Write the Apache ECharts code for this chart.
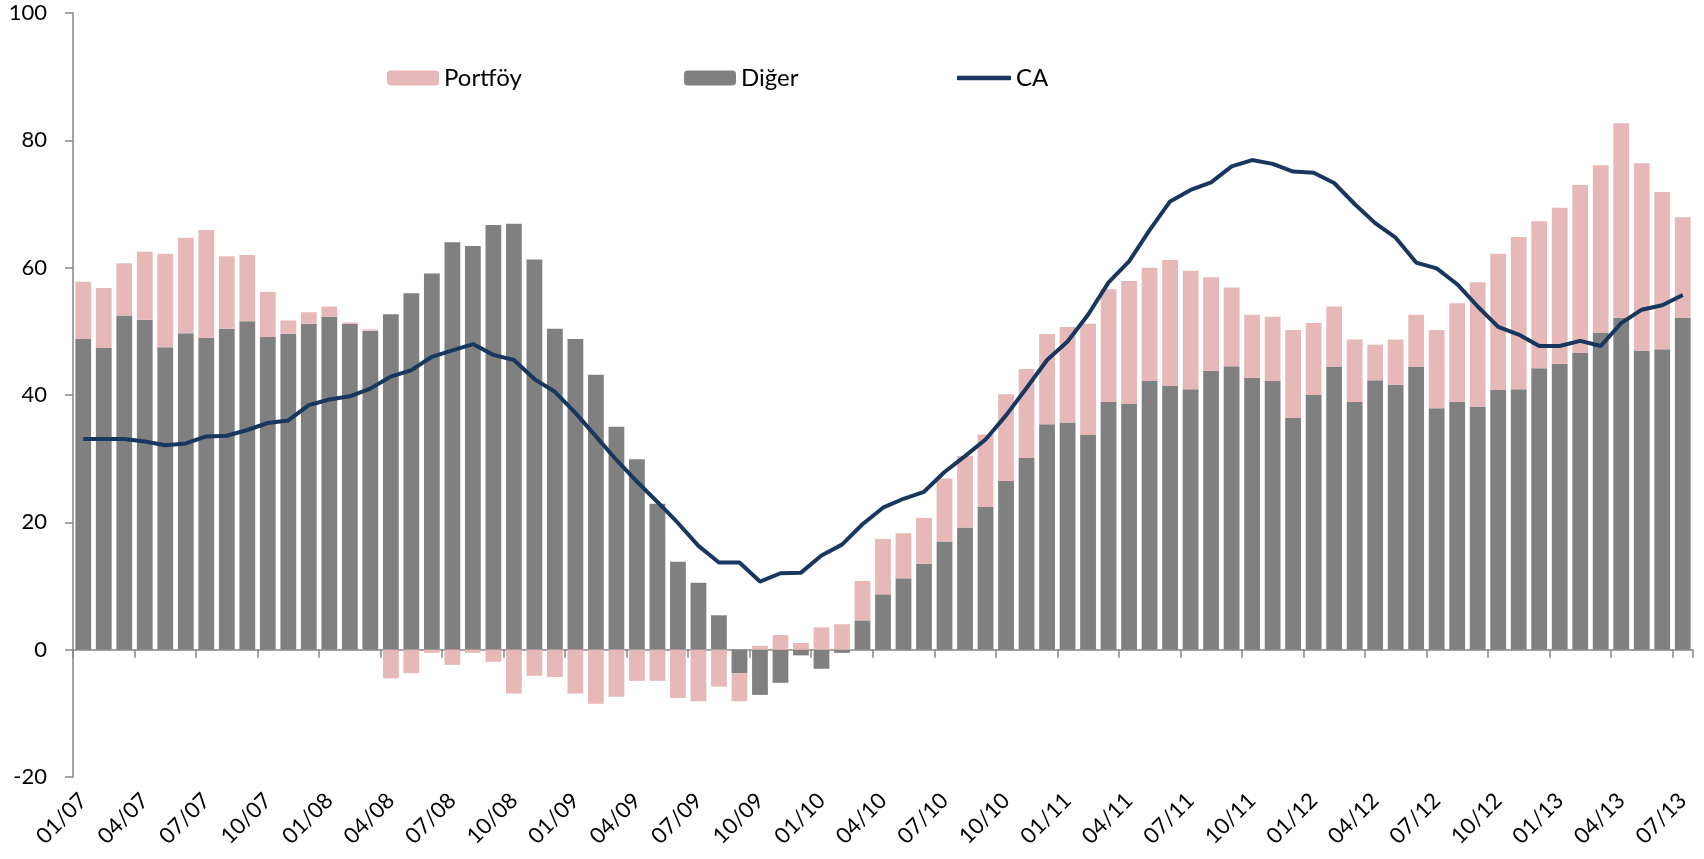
<!DOCTYPE html>
<html>
<head>
<meta charset="utf-8">
<script src="https://cdn.jsdelivr.net/npm/echarts@6/dist/echarts.min.js"></script>
<style>
html,body{margin:0;padding:0;background:#fff;}
#chart{width:1704px;height:859px;}
</style>
</head>
<body>
<div id="chart"></div>
<script>
const categories = [
'01/07','02/07','03/07','04/07','05/07','06/07','07/07','08/07','09/07','10/07','11/07','12/07',
'01/08','02/08','03/08','04/08','05/08','06/08','07/08','08/08','09/08','10/08','11/08','12/08',
'01/09','02/09','03/09','04/09','05/09','06/09','07/09','08/09','09/09','10/09','11/09','12/09',
'01/10','02/10','03/10','04/10','05/10','06/10','07/10','08/10','09/10','10/10','11/10','12/10',
'01/11','02/11','03/11','04/11','05/11','06/11','07/11','08/11','09/11','10/11','11/11','12/11',
'01/12','02/12','03/12','04/12','05/12','06/12','07/12','08/12','09/12','10/12','11/12','12/12',
'01/13','02/13','03/13','04/13','05/13','06/13','07/13'
];
const diger = [
48.8,47.4,52.5,51.8,47.5,49.7,49.0,50.4,51.6,49.1,49.6,51.2,
52.3,51.2,50.1,52.7,56.0,59.1,64.0,63.4,66.7,66.9,61.3,50.4,
48.8,43.2,35.0,29.9,22.9,13.8,10.5,5.4,-3.7,-7.1,-5.2,-0.9,
-3.0,-0.5,4.6,8.7,11.2,13.5,17.0,19.2,22.4,26.5,30.1,35.4,
35.7,33.7,38.9,38.6,42.2,41.4,40.9,43.8,44.5,42.7,42.2,36.4,
40.0,44.4,38.9,42.3,41.6,44.4,37.9,38.9,38.1,40.8,40.9,44.2,
44.9,46.6,49.8,52.1,46.9,47.2,52.1
];
const portfoy = [
9.0,9.4,8.2,10.7,14.7,15.0,16.9,11.4,10.4,7.1,2.1,1.8,
1.6,0.2,0.2,-4.5,-3.7,-0.5,-2.4,-0.5,-1.9,-6.9,-4.1,-4.3,
-6.9,-8.5,-7.4,-4.9,-4.9,-7.6,-8.1,-5.8,-4.4,0.6,2.3,1.05,
3.5,4.0,6.2,8.7,7.1,7.2,9.9,11.2,11.4,13.6,14.0,14.2,
15.0,17.5,17.7,19.3,17.8,19.8,18.6,14.7,12.4,9.9,10.1,13.8,
11.3,9.5,9.8,5.6,7.1,8.2,12.3,15.5,19.6,21.4,23.9,23.1,
24.5,26.4,26.3,30.6,29.5,24.7,15.8
];
const ca = [
33.1,33.1,33.1,32.7,32.1,32.4,33.5,33.6,34.5,35.6,36.0,38.4,
39.3,39.8,41.0,42.9,43.9,46.0,47.0,48.0,46.3,45.5,42.5,40.5,
37.2,33.5,29.8,26.4,23.2,19.9,16.3,13.7,13.7,10.7,12.0,12.1,
14.8,16.5,19.7,22.3,23.7,24.8,27.9,30.4,33.0,36.8,41.1,45.5,
48.4,52.6,57.7,61.0,65.9,70.4,72.2,73.4,75.9,76.9,76.3,75.1,
74.9,73.3,70.0,67.0,64.7,60.8,59.9,57.4,53.9,50.7,49.5,47.7,
47.7,48.5,47.7,51.3,53.4,54.1,55.7
];
const yTicks = {min: -20, max: 100, step: 20};

const FONT = 'Lato';
const axisColor = '#868686';
const lineColor = '#17375E';
const legendText = {fontSize: 24, fontFamily: FONT, color: '#000'};

const chart = echarts.init(document.getElementById('chart'), null, {renderer: 'canvas'});
chart.setOption({
  animation: false,
  backgroundColor: '#fff',
  grid: {left: 73, right: 11, top: 13, bottom: 82, containLabel: false},
  legend: [
    {data: ['Portföy'], left: 382, top: 61, itemWidth: 52, itemHeight: 15, textStyle: legendText},
    {data: ['Diğer'], left: 679, top: 61, itemWidth: 52, itemHeight: 15, textStyle: legendText},
    {data: [{name: 'CA', icon: 'roundRect', itemStyle: {color: lineColor}}], left: 952, top: 61,
     itemWidth: 54, itemHeight: 4.5, textStyle: legendText}
  ],
  xAxis: [
    {
      type: 'category', data: categories, position: 'bottom',
      axisLine: {onZero: true, lineStyle: {color: axisColor, width: 1.5}},
      axisTick: {show: true, interval: 2, length: 8, lineStyle: {color: axisColor, width: 1.5}},
      axisLabel: {show: false}
    },
    {
      type: 'category', data: categories, position: 'bottom',
      axisLine: {show: false, onZero: false},
      axisTick: {show: false},
      axisLabel: {interval: 2, rotate: 45, margin: 20, fontSize: 22, fontFamily: FONT, color: '#000'}
    }
  ],
  yAxis: {
    type: 'value', min: yTicks.min, max: yTicks.max, interval: yTicks.step,
    axisLine: {show: true, lineStyle: {color: axisColor, width: 1.5}},
    axisTick: {show: true, length: 8, lineStyle: {color: axisColor, width: 1.5}},
    axisLabel: {margin: 26, fontSize: 22, fontFamily: FONT, color: '#000'},
    splitLine: {show: false}
  },
  series: [
    {
      name: 'Diğer', type: 'bar', stack: 'total', data: diger,
      barCategoryGap: '23%',
      itemStyle: {color: '#808080'}
    },
    {
      name: 'Portföy', type: 'bar', stack: 'total', data: portfoy,
      barCategoryGap: '23%',
      itemStyle: {color: '#E6B9B8'}
    },
    {
      name: 'CA', type: 'line', data: ca, symbol: 'none', z: 5,
      lineStyle: {color: lineColor, width: 4},
      itemStyle: {color: lineColor}
    }
  ]
});
</script>
</body>
</html>
